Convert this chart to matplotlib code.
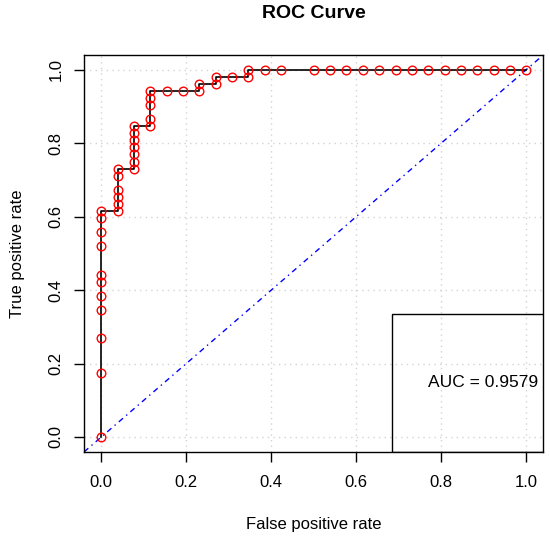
import matplotlib
matplotlib.use("Agg")
import matplotlib.pyplot as plt
from matplotlib.patches import Rectangle

plt.rcParams['font.family'] = ['Liberation Sans', 'DejaVu Sans']

# ROC points (false positive rate, true positive rate)
fpr = [0.0, 0.0, 0.0, 0.0, 0.0, 0.0, 0.0, 0.0, 0.0, 0.0, 0.0,
       0.0385, 0.0385, 0.0385, 0.0385, 0.0385, 0.0385,
       0.0769, 0.0769, 0.0769, 0.0769, 0.0769, 0.0769, 0.0769,
       0.1154, 0.1154, 0.1154, 0.1154, 0.1154,
       0.1538, 0.1923, 0.2308, 0.2308, 0.2692, 0.2692, 0.3077, 0.3462, 0.3462,
       0.3846, 0.4231, 0.5, 0.5385, 0.5769, 0.6154, 0.6538, 0.6923,
       0.7308, 0.7692, 0.8077, 0.8462, 0.8846, 0.9231, 0.9615, 1.0]
tpr = [0.0, 0.1731, 0.2692, 0.3462, 0.3846, 0.4231, 0.4423, 0.5192, 0.5577, 0.5962, 0.6154,
       0.6154, 0.6346, 0.6538, 0.6731, 0.7115, 0.7308,
       0.7308, 0.75, 0.7692, 0.7885, 0.8077, 0.8269, 0.8462,
       0.8462, 0.8654, 0.9038, 0.9231, 0.9423,
       0.9423, 0.9423, 0.9423, 0.9615, 0.9615, 0.9808, 0.9808, 0.9808, 1.0,
       1.0, 1.0, 1.0, 1.0, 1.0, 1.0, 1.0, 1.0,
       1.0, 1.0, 1.0, 1.0, 1.0, 1.0, 1.0, 1.0]
ticks = [0.0, 0.2, 0.4, 0.6, 0.8, 1.0]
tick_labels = ["0.0", "0.2", "0.4", "0.6", "0.8", "1.0"]
auc_text = "AUC = 0.9579"

fig = plt.figure(figsize=(5.5, 5.39), dpi=100)
ax = fig.add_axes([0.1533, 0.162, 0.8345, 0.736])

ax.set_xlim(-0.04, 1.04)
ax.set_ylim(-0.04, 1.04)

for t in ticks:
    ax.axvline(t, color='#d3d3d3', linestyle=(0, (1, 3)), linewidth=1.0, zorder=0)
    ax.axhline(t, color='#d3d3d3', linestyle=(0, (1, 3)), linewidth=1.0, zorder=0)

ax.plot([-1, 2], [-1, 2], color='#0000FF', linestyle=(0, (1, 3, 4, 3)), linewidth=1.0, zorder=1)
ax.plot(fpr, tpr, color='black', linewidth=1.2, zorder=2)
ax.plot(fpr, tpr, linestyle='none', marker='o', markersize=6.2, markerfacecolor='none',
        markeredgecolor='#FF0000', markeredgewidth=1.0, zorder=3)

ax.add_patch(Rectangle((0.684, -0.04), 0.36, 0.375, fill=False, edgecolor='black',
                       linewidth=1.0, zorder=4))
ax.text(0.769, 0.148, auc_text, fontsize=12.5, ha='left', va='center', zorder=5)

ax.set_xticks(ticks)
ax.set_xticklabels(tick_labels, fontsize=12)
ax.set_yticks(ticks)
ax.set_yticklabels(tick_labels, fontsize=12, rotation=90, va='center')
ax.tick_params(axis='both', direction='out', length=7.5, width=1.0)
ax.tick_params(axis='x', pad=9)
ax.tick_params(axis='y', pad=7.5)
for s in ax.spines.values():
    s.set_linewidth(1.0)

ax.set_xlabel("False positive rate", fontsize=12, labelpad=19.5)
ax.set_ylabel("True positive rate", fontsize=12, labelpad=17)
fig.text(0.5 * (0.1533 + 0.9878), 1 - 13 / 539, "ROC Curve", fontsize=14,
         fontweight='bold', ha='center', va='center')

fig.savefig("out.png", dpi=100)
